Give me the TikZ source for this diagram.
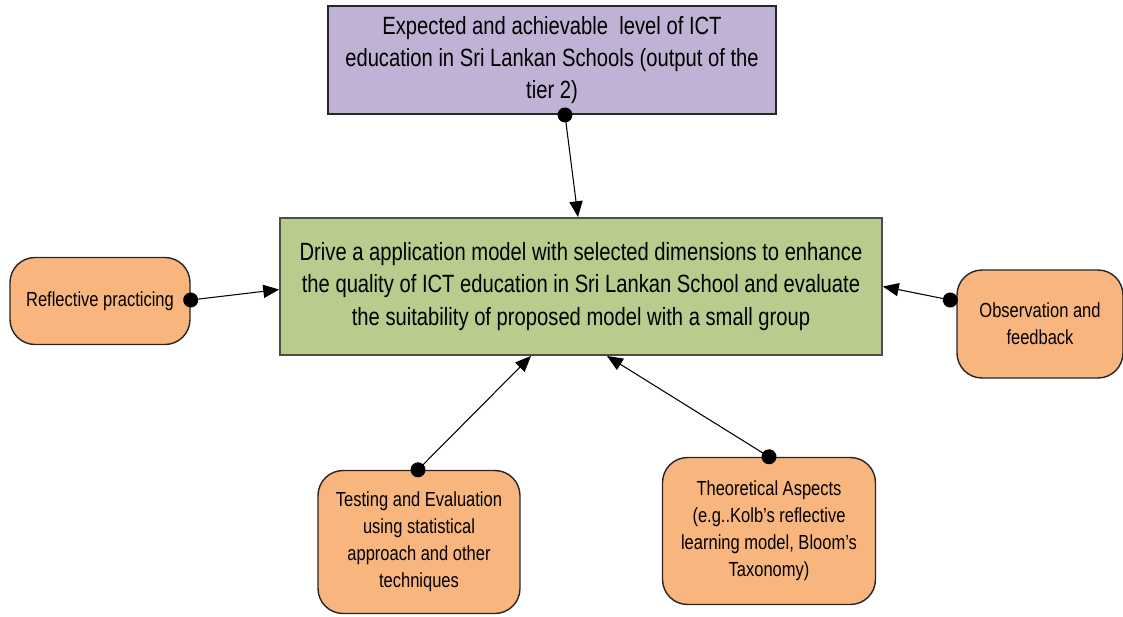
\documentclass[tikz,border=0pt]{standalone}
\usepackage{fontspec}
\setmainfont[FakeStretch=0.81]{Liberation Sans}
\usepackage{xcolor}
\usetikzlibrary{arrows.meta}

\definecolor{tierpurple}{RGB}{191,178,212}
\definecolor{goalgreen}{RGB}{183,204,141}
\definecolor{aspectorange}{RGB}{248,181,126}

\begin{document}
\begin{tikzpicture}[x=0.02cm,y=-0.02cm,
  box/.style={draw=black!85,line width=1.1pt,align=center,inner sep=2pt},
  tier/.style={box,fill=tierpurple,minimum width=8.96cm,minimum height=2.16cm,font=\fontsize{14.2}{18.2}\selectfont},
  goal/.style={box,draw=black!70,fill=goalgreen,minimum width=12.04cm,minimum height=2.74cm,font=\fontsize{14.2}{18.7}\selectfont},
  aspect/.style={box,line width=0.8pt,fill=aspectorange,rounded corners=0.5cm,font=\fontsize{11.6}{15.3}\selectfont},
  link/.style={line width=0.6pt,{Circle[length=8.5pt]}-{Triangle[length=9pt,width=7.5pt]},shorten <=-4.25pt}]
\useasboundingbox (0,0) rectangle (1123,616);
\node[tier] (tier2) at (552,60) {Expected and achievable\ \ level of ICT\\education in Sri Lankan Schools (output of the\\tier 2)};
\node[goal] (goal) at (581,286.5) {Drive a application model with selected dimensions to enhance\\the quality of ICT education in Sri Lankan School and evaluate\\the suitability of proposed model with a small group};
\node[aspect,minimum width=3.6cm,minimum height=1.74cm] (refl) at (100,301) {Reflective practicing};
\node[aspect,minimum width=3.32cm,minimum height=2.16cm] (obs) at (1040,324) {Observation and\\feedback};
\node[aspect,minimum width=4.04cm,minimum height=2.86cm] (test) at (419,542) {Testing and Evaluation\\using statistical\\approach and other\\techniques};
\node[aspect,minimum width=4.26cm,minimum height=2.94cm] (theo) at (769,531) {Theoretical Aspects\\(e.g..Kolb's reflective\\learning model, Bloom's\\Taxonomy)};
\draw[link] ([xshift=0.26cm]tier2.south) -- ([xshift=-0.06cm]goal.north);
\draw[link] ([yshift=0.02cm]refl.east) -- ([yshift=-0.06cm]goal.west);
\draw[link] ([xshift=-0.12cm,yshift=0.48cm]obs.west) -- ([yshift=-0.0cm]goal.east);
\draw[link] ([xshift=-0.02cm]test.north) -- ([xshift=-1cm]goal.south);
\draw[link] (theo.north) -- ([xshift=0.52cm]goal.south);
\end{tikzpicture}
\end{document}
